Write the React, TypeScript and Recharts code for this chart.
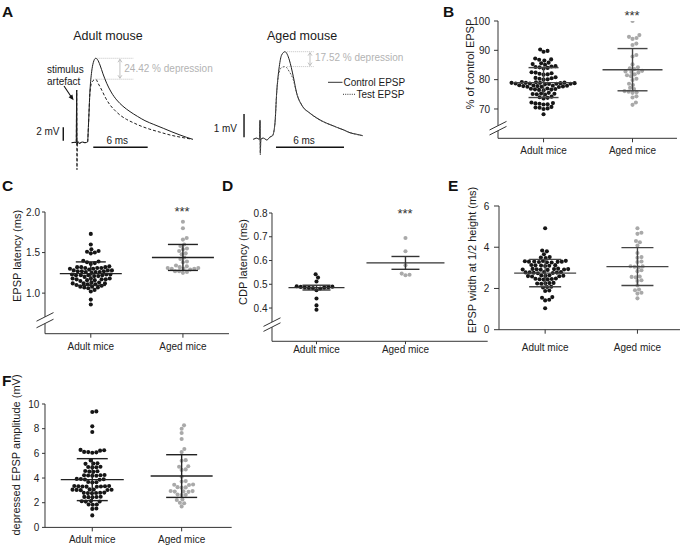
import React from 'react';
import { ScatterChart, Scatter, XAxis, YAxis, ErrorBar, ReferenceLine, LineChart, Line } from 'recharts';

const FONT = '"Liberation Sans", Arial, Helvetica, sans-serif';
const groups = ['Adult mice', 'Aged mice'];

// ---------- Panel A traces (time ms, voltage mV) ----------
const adultControl = [
  { t: -0.55, v: 0 }, { t: -0.2, v: 0.05 }, { t: -0.05, v: 0 }, { t: 0, v: 7.8 }, { t: 0.04, v: -0.3 },
  { t: 0.12, v: 0.2 }, { t: 0.3, v: -0.1 }, { t: 0.6, v: 0.1 }, { t: 0.9, v: 0 }, { t: 1.2, v: 0.1 },
  { t: 1.3, v: 2.6 }, { t: 1.47, v: 7.8 }, { t: 1.65, v: 10.5 }, { t: 1.83, v: 11.85 }, { t: 2.09, v: 12.5 },
  { t: 2.3, v: 12.3 }, { t: 2.57, v: 11.5 }, { t: 2.9, v: 10.2 }, { t: 3.31, v: 8.8 }, { t: 3.8, v: 7.5 },
  { t: 4.41, v: 6.33 }, { t: 5.1, v: 5.4 }, { t: 5.88, v: 4.6 }, { t: 6.7, v: 3.9 }, { t: 7.53, v: 3.26 },
  { t: 8.5, v: 2.7 }, { t: 9.55, v: 2.13 }, { t: 10.5, v: 1.6 }, { t: 11.39, v: 1.14 }, { t: 12.1, v: 0.8 },
  { t: 12.79, v: 0.5 },
];
const adultTest = [
  { t: -0.55, v: 0 }, { t: -0.2, v: 0.05 }, { t: -0.05, v: 0 }, { t: 0, v: 7.8 }, { t: 0.03, v: -4.0 },
  { t: 0.08, v: 0 }, { t: 0.3, v: -0.1 }, { t: 0.6, v: 0.1 }, { t: 0.9, v: 0 }, { t: 1.2, v: 0.1 },
  { t: 1.3, v: 2.6 }, { t: 1.47, v: 7.5 }, { t: 1.69, v: 9.0 }, { t: 2.09, v: 9.4 }, { t: 2.4, v: 8.7 },
  { t: 2.76, v: 7.8 }, { t: 3.2, v: 6.6 }, { t: 3.67, v: 5.6 }, { t: 4.2, v: 4.8 }, { t: 4.77, v: 4.1 },
  { t: 5.5, v: 3.45 }, { t: 6.24, v: 2.96 }, { t: 7.1, v: 2.45 }, { t: 8.08, v: 1.99 }, { t: 9.2, v: 1.55 },
  { t: 10.29, v: 1.14 }, { t: 11.5, v: 0.8 }, { t: 12.79, v: 0.5 },
];
const agedControl = [
  { t: -0.59, v: 0 }, { t: -0.3, v: 0.05 }, { t: -0.05, v: 0 }, { t: 0, v: 0.8 }, { t: 0.03, v: -0.6 },
  { t: 0.07, v: 0 }, { t: 0.3, v: 0.05 }, { t: 0.6, v: -0.03 }, { t: 0.88, v: 0.1 }, { t: 1.1, v: 0.15 },
  { t: 1.32, v: 0.69 }, { t: 1.47, v: 1.99 }, { t: 1.7, v: 3.12 }, { t: 1.91, v: 3.62 }, { t: 2.21, v: 3.76 },
  { t: 2.4, v: 3.65 }, { t: 2.59, v: 3.4 }, { t: 2.94, v: 2.69 }, { t: 3.24, v: 1.97 }, { t: 3.68, v: 1.47 },
  { t: 4.41, v: 1.12 }, { t: 5.0, v: 0.92 }, { t: 5.59, v: 0.755 }, { t: 6.2, v: 0.63 }, { t: 6.77, v: 0.515 },
  { t: 7.4, v: 0.4 }, { t: 7.94, v: 0.28 }, { t: 8.5, v: 0.22 }, { t: 9.06, v: 0.155 },
];
const agedTest = [
  { t: -0.59, v: 0 }, { t: -0.3, v: 0.05 }, { t: -0.05, v: 0 }, { t: 0, v: 0.83 }, { t: 0.03, v: -0.67 },
  { t: 0.07, v: 0 }, { t: 0.3, v: 0.05 }, { t: 0.6, v: -0.03 }, { t: 0.88, v: 0.1 }, { t: 1.1, v: 0.15 },
  { t: 1.32, v: 0.69 }, { t: 1.47, v: 1.99 }, { t: 1.68, v: 2.85 }, { t: 1.9, v: 3.08 }, { t: 2.21, v: 3.12 },
  { t: 2.59, v: 2.9 }, { t: 2.94, v: 2.55 }, { t: 3.24, v: 1.97 }, { t: 3.68, v: 1.47 }, { t: 4.41, v: 1.12 },
  { t: 5.0, v: 0.9 }, { t: 5.59, v: 0.75 }, { t: 6.2, v: 0.62 }, { t: 6.77, v: 0.52 }, { t: 7.4, v: 0.39 },
  { t: 7.94, v: 0.29 }, { t: 8.5, v: 0.21 }, { t: 9.06, v: 0.16 },
];

// ---------- Panel B: % of control EPSP ----------
const adultB = [
  90.3, 89.8, 89.5, 87.2, 86.8, 86.5, 86.9, 85.8, 85.3, 85.6, 85.1, 84.6, 84.3, 84.0, 84.5, 84.2, 83.8,
  82.4, 82.0, 81.7, 82.2, 81.8, 82.5, 80.6, 80.3, 80.1, 80.5, 80.0, 80.8,
  79.1, 78.9, 78.8, 78.7, 78.6, 78.9, 79.0, 78.5, 78.8, 78.6, 78.7, 79.2, 78.4, 78.9,
  77.9, 77.8, 77.6, 78.0, 77.7, 77.5, 78.1, 77.9, 77.6, 77.8, 76.8, 76.6, 76.9, 76.5, 76.7, 76.4, 77.0,
  75.3, 75.1, 75.5, 75.0, 75.2, 74.9, 74.0, 73.8, 73.6, 74.2, 72.0, 71.8, 71.5, 71.9, 72.2, 71.6,
  70.5, 70.2, 70.7, 70.0, 70.4, 68.2,
];
const agedB = [
  100, 95.2, 94.6, 94.2, 93.9, 92.3, 91.8, 88.4, 87.9, 85.2, 84.2, 83.9, 83.6, 83.0, 82.8, 82.6, 82.4,
  81.8, 81.5, 81.2, 80.3, 79.9, 78.6, 78.2, 77.2, 76.8, 76.1, 75.9, 75.7, 75.5, 74.3, 73.9, 72.2, 71.4,
];
const meanB = [79.0, 83.4];
const sdB = [5.1, 7.2];

// ---------- Panel C: EPSP latency (ms) ----------
const adultC = [
  1.73, 1.6, 1.54, 1.52, 1.5, 1.49, 1.51, 1.4, 1.38, 1.39, 1.37, 1.36,
  1.32, 1.31, 1.3, 1.32, 1.31, 1.33, 1.3, 1.31, 1.29, 1.32,
  1.28, 1.27, 1.26, 1.27, 1.28, 1.26, 1.27, 1.25, 1.28, 1.26,
  1.23, 1.22, 1.21, 1.22, 1.23, 1.21, 1.22, 1.2, 1.23, 1.22,
  1.18, 1.17, 1.16, 1.17, 1.18, 1.16, 1.17, 1.15, 1.18,
  1.13, 1.12, 1.11, 1.12, 1.13, 1.1, 1.11, 1.12,
  1.08, 1.07, 1.09, 1.08, 1.06, 1.07, 1.04, 1.02, 0.92, 0.86,
];
const agedC = [
  1.88, 1.8, 1.68, 1.66, 1.6, 1.58, 1.55, 1.54, 1.52, 1.49, 1.48, 1.44, 1.42, 1.39, 1.38,
  1.34, 1.33, 1.32, 1.31, 1.3, 1.3, 1.29, 1.31, 1.3, 1.27, 1.26, 1.25, 1.27,
];
const meanC = [1.24, 1.44];
const sdC = [0.145, 0.16];

// ---------- Panel D: CDP latency (ms) ----------
const adultD = [0.542, 0.528, 0.512, 0.492, 0.488, 0.486, 0.49, 0.484, 0.482, 0.487, 0.489, 0.485, 0.475, 0.44, 0.411, 0.393];
const agedD = [0.695, 0.639, 0.58, 0.545, 0.54, 0.538];
const meanD = [0.486, 0.59];
const semD = [0.01, 0.027];

// ---------- Panel E: EPSP width at 1/2 height (ms) ----------
const adultE = [
  4.92, 3.84, 3.8, 3.66, 3.52, 3.5, 3.48,
  3.32, 3.3, 3.28, 3.31, 3.29, 3.33, 3.27, 3.3, 3.34, 3.26,
  3.12, 3.1, 3.13, 3.09, 3.11, 3.14,
  2.94, 2.92, 2.95, 2.91, 2.93, 2.96, 2.9, 2.94, 2.92,
  2.78, 2.76, 2.79, 2.75, 2.77, 2.8, 2.74, 2.78,
  2.62, 2.6, 2.63, 2.59, 2.61, 2.64, 2.58,
  2.46, 2.44, 2.47, 2.43, 2.45, 2.48,
  2.26, 2.24, 2.27, 2.23, 2.25, 2.07, 2.05, 2.08, 1.9, 1.88, 1.58, 1.55, 1.45, 1.42, 1.04,
];
const agedE = [
  4.92, 4.7, 4.65, 4.3, 4.24, 4.08, 3.72, 3.52, 3.49, 3.31, 3.28, 3.08, 3.05, 3.03, 3.07,
  2.88, 2.84, 2.58, 2.56, 2.54, 2.4, 2.36, 2.15, 1.95, 1.91, 1.79, 1.75, 1.52,
];
const meanE = [2.745, 3.06];
const sdE = [0.665, 0.92];

// ---------- Panel F: depressed EPSP amplitude (mV) ----------
const adultF = [
  9.4, 9.35, 8.19, 7.73,
  6.28, 6.22, 6.25, 6.1, 6.05, 6.08, 6.12,
  5.43, 5.18, 5.15, 5.2, 4.9, 4.88, 4.92, 4.86,
  4.55, 4.52, 4.57, 4.5, 4.22, 4.2, 4.24, 4.18, 4.23, 4.19,
  3.92, 3.88, 3.9, 3.93, 3.86, 3.66, 3.64, 3.68,
  3.34, 3.31, 3.33, 3.3, 3.35, 3.29, 3.32, 3.36,
  3.06, 3.04, 3.07, 3.03, 3.08, 3.02, 3.05,
  2.8, 2.78, 2.81, 2.77, 2.82, 2.79, 2.47, 2.45, 2.48, 2.44, 2.46,
  2.12, 2.1, 2.13, 2.09, 1.85, 1.83, 1.86, 1.53, 1.5, 0.97,
];
const agedF = [
  8.27, 8.0, 7.65, 7.16, 6.35, 6.1, 5.45, 5.4, 4.96, 4.92, 4.7, 4.66, 4.1, 3.75, 3.71,
  3.48, 3.45, 3.44, 3.26, 3.22, 3.24, 2.94, 2.92, 2.9, 2.95, 2.88, 2.66, 2.64, 2.62,
  2.26, 2.22, 2.0, 1.96, 1.7,
];
const meanF = [3.87, 4.16];
const sdF = [1.7, 1.73];

const ADULT_COLOR = '#161616';
const AGED_COLOR = '#a9a9a9';

function beeswarm(values: number[], pxPerX: number, pxPerY: number, d: number): number[] {
  const order = values.map((_, i) => i).sort((a, b) => values[a] - values[b]);
  const placed: { x: number; y: number }[] = [];
  const out = new Array(values.length).fill(0);
  for (const i of order) {
    const y = values[i] * pxPerY;
    const near = placed.filter((p) => Math.abs(p.y - y) < d);
    const cands = [0];
    for (const p of near) {
      const dx = Math.sqrt(Math.max(0, d * d - (p.y - y) * (p.y - y)));
      cands.push(p.x + dx, p.x - dx);
    }
    cands.sort((a, b) => Math.abs(a) - Math.abs(b));
    let chosen = 0;
    for (const c of cands) {
      if (near.every((p) => (p.x - c) * (p.x - c) + (p.y - y) * (p.y - y) >= d * d - 1e-6)) {
        chosen = c;
        break;
      }
    }
    placed.push({ x: chosen, y });
    out[i] = chosen / pxPerX;
  }
  return out;
}

interface PanelProps {
  axisX: number; xEnd: number; yTop: number; yBottom: number;
  xDomain: [number, number]; yDomain: [number, number]; yTicks: number[]; decimals: number;
  series: number[][]; means: number[]; errs: number[];
  meanHalf: number[]; errHalf: number; meanColor: string;
  brk?: { upper: number; lower: number };
  xTickSize: number; xTickMargin: number; yTickSize: number; yTickMargin: number;
}

const AXIS_COLOR = '#333';

function SwarmPanel(p: PanelProps) {
  const ML = 50, MT = 8, MR = 8, XH = 30;
  const plotW = p.xEnd - p.axisX;
  const plotH = p.yBottom - p.yTop;
  const W = ML + plotW + MR;
  const H = MT + plotH + XH;
  const pxPerX = plotW / (p.xDomain[1] - p.xDomain[0]);
  const pxPerY = plotH / (p.yDomain[1] - p.yDomain[0]);
  const uy = (px: number) => p.yDomain[0] + px / pxPerY;
  const ux = (px: number) => px / pxPerX;
  const x0 = p.xDomain[0];
  const colors = [ADULT_COLOR, AGED_COLOR];
  const dots = p.series.map((vals, g) => {
    const off = beeswarm(vals, pxPerX, pxPerY, 4.1);
    return vals.map((v, i) => ({ x: g + 1 + off[i], y: v }));
  });
  const meanData = p.means.map((m, g) => ({ x: g + 1, y: m, err: p.errs[g] }));
  const brkLines: { x: number; y: number }[][] = [];
  if (p.brk) {
    for (const c of [p.brk.upper, p.brk.lower]) {
      brkLines.push([
        { x: x0 - ux(8.5), y: uy(c - 4.3) },
        { x: x0 + ux(8.5), y: uy(c + 4.3) },
      ]);
    }
  }
  return (
    <div style={{ position: 'absolute', left: p.axisX - ML, top: p.yTop - MT }}>
      <ScatterChart width={W} height={H} margin={{ top: MT, right: MR, bottom: 0, left: 0 }}>
        <XAxis
          type="number" dataKey="x" domain={p.xDomain} allowDataOverflow ticks={[1, 2]} interval={0}
          tickFormatter={(v: number) => groups[Math.round(v) - 1]} height={XH}
          stroke={AXIS_COLOR} tickSize={p.xTickSize} tickMargin={p.xTickMargin}
          tick={{ fontSize: 10, fill: '#222', fontFamily: FONT }}
        />
        <YAxis
          type="number" dataKey="y" domain={p.yDomain} allowDataOverflow ticks={p.yTicks} interval={0}
          width={ML} axisLine={!p.brk} stroke={AXIS_COLOR} tickSize={p.yTickSize} tickMargin={p.yTickMargin}
          tickFormatter={(v: number) => v.toFixed(p.decimals)}
          tick={{ fontSize: 10, fill: '#222', fontFamily: FONT }}
        />
        {p.brk && (
          <ReferenceLine segment={[{ x: x0, y: uy(p.brk.upper) }, { x: x0, y: p.yDomain[1] }]} stroke={AXIS_COLOR} ifOverflow="visible" />
        )}
        {p.brk && (
          <ReferenceLine segment={[{ x: x0, y: p.yDomain[0] }, { x: x0, y: uy(p.brk.lower) }]} stroke={AXIS_COLOR} ifOverflow="visible" />
        )}
        {brkLines.map((s, i) => (
          <ReferenceLine key={'b' + i} segment={s} stroke={AXIS_COLOR} ifOverflow="visible" />
        ))}
        {dots.map((d, g) => (
          <Scatter
            key={g} data={d} isAnimationActive={false}
            shape={(sp: any) => <circle cx={sp.cx} cy={sp.cy} r={2.05} fill={colors[g]} />}
          />
        ))}
        <Scatter
          data={meanData} isAnimationActive={false}
          shape={(sp: any) => {
            const half = sp.payload && sp.payload.x === 1 ? p.meanHalf[0] : p.meanHalf[1];
            return <line x1={sp.cx - half} x2={sp.cx + half} y1={sp.cy} y2={sp.cy} stroke={p.meanColor} strokeWidth={1.4} />;
          }}
        >
          <ErrorBar dataKey="err" direction="y" width={p.errHalf} stroke={p.meanColor} strokeWidth={1.4} zIndex={700} />
        </Scatter>
      </ScatterChart>
    </div>
  );
}

const arrowShape = (color: string) => (sp: any) => {
  const x = sp.x1;
  const top = Math.min(sp.y1, sp.y2);
  const bot = Math.max(sp.y1, sp.y2);
  return (
    <g>
      <line x1={x} x2={x} y1={top + 1} y2={bot - 1} stroke={color} strokeWidth={0.8} />
      <path d={`M${x - 2},${top + 4} L${x},${top + 1} L${x + 2},${top + 4}`} fill="none" stroke={color} strokeWidth={0.8} />
      <path d={`M${x - 2},${bot - 4} L${x},${bot - 1} L${x + 2},${bot - 4}`} fill="none" stroke={color} strokeWidth={0.8} />
    </g>
  );
};

const GRAY = '#b3b3b3';
const peak = (arr: { t: number; v: number }[]) => Math.max(...arr.map((d) => d.v));

function Traces() {
  const aCp = peak(adultControl), aTp = peak(adultTest);
  const gCp = peak(agedControl), gTp = peak(agedTest);
  return (
    <>
      <div style={{ position: 'absolute', left: 40, top: 40 }}>
        <LineChart width={160} height={140} margin={{ top: 0, right: 0, bottom: 0, left: 0 }}>
          <XAxis type="number" dataKey="t" domain={[-4.046, 13.6]} hide allowDataOverflow />
          <YAxis type="number" domain={[-5.53, 15.21]} hide allowDataOverflow />
          <ReferenceLine segment={[{ x: 2.2, y: aCp }, { x: 6.24, y: aCp }]} stroke={GRAY} strokeDasharray="1 1" strokeWidth={0.8} ifOverflow="visible" />
          <ReferenceLine segment={[{ x: 2.2, y: aTp }, { x: 6.24, y: aTp }]} stroke={GRAY} strokeDasharray="1 1" strokeWidth={0.8} ifOverflow="visible" />
          <ReferenceLine segment={[{ x: 4.77, y: aCp }, { x: 4.77, y: aTp }]} shape={arrowShape(GRAY)} ifOverflow="visible" />
          <ReferenceLine segment={[{ x: -1.48, y: 0.3 }, { x: -1.48, y: 2.3 }]} stroke="#111" strokeWidth={1.4} ifOverflow="visible" />
          <ReferenceLine segment={[{ x: 1.83, y: -0.68 }, { x: 7.83, y: -0.68 }]} stroke="#111" strokeWidth={1.4} ifOverflow="visible" />
          <Line data={adultControl} dataKey="v" type="monotone" dot={false} stroke="#1e1e1e" strokeWidth={1} isAnimationActive={false} />
          <Line data={adultTest} dataKey="v" type="monotone" dot={false} stroke="#1e1e1e" strokeWidth={1} strokeDasharray="3 2" isAnimationActive={false} />
        </LineChart>
      </div>
      <div style={{ position: 'absolute', left: 230, top: 40 }}>
        <LineChart width={200} height={125} margin={{ top: 0, right: 0, bottom: 0, left: 0 }}>
          <XAxis type="number" dataKey="t" domain={[-2.648, 15.0]} hide allowDataOverflow />
          <YAxis type="number" domain={[-1.103, 4.262]} hide allowDataOverflow />
          <ReferenceLine segment={[{ x: 2.4, y: gCp }, { x: 4.75, y: gCp }]} stroke={GRAY} strokeDasharray="1 1" strokeWidth={0.8} ifOverflow="visible" />
          <ReferenceLine segment={[{ x: 2.4, y: gTp }, { x: 4.75, y: gTp }]} stroke={GRAY} strokeDasharray="1 1" strokeWidth={0.8} ifOverflow="visible" />
          <ReferenceLine segment={[{ x: 4.41, y: gCp }, { x: 4.41, y: gTp }]} shape={arrowShape(GRAY)} ifOverflow="visible" />
          <ReferenceLine segment={[{ x: -1.41, y: 0.09 }, { x: -1.41, y: 1.09 }]} stroke="#111" strokeWidth={1.4} ifOverflow="visible" />
          <ReferenceLine segment={[{ x: 1.41, y: -0.34 }, { x: 7.41, y: -0.34 }]} stroke="#111" strokeWidth={1.4} ifOverflow="visible" />
          <Line data={agedControl} dataKey="v" type="monotone" dot={false} stroke="#1e1e1e" strokeWidth={1} isAnimationActive={false} />
          <Line data={agedTest} dataKey="v" type="monotone" dot={false} stroke="#555" strokeWidth={1} strokeDasharray="2 1.5" isAnimationActive={false} />
        </LineChart>
      </div>
    </>
  );
}

function Overlay() {
  const letter = { fontFamily: FONT, fontSize: 15.5, fontWeight: 700, fill: '#111' } as const;
  const small = { fontFamily: FONT, fontSize: 10, fill: '#1a1a1a' } as const;
  const ylab = { fontFamily: FONT, fontSize: 11, fill: '#1a1a1a' } as const;
  const stars = { fontFamily: FONT, fontSize: 13, fill: '#333' } as const;
  const yl = (x: number, y: number, s: string) => (
    <text transform={`translate(${x},${y}) rotate(-90)`} textAnchor="middle" dominantBaseline="central" style={ylab}>{s}</text>
  );
  return (
    <svg width={685} height={546} style={{ position: 'absolute', left: 0, top: 0, pointerEvents: 'none' }}>
      <text x={2} y={17} style={letter}>A</text>
      <text x={443} y={17} style={letter}>B</text>
      <text x={2} y={191} style={letter}>C</text>
      <text x={222} y={191} style={letter}>D</text>
      <text x={448} y={191} style={letter}>E</text>
      <text x={2} y={386} style={letter}>F</text>

      <text x={108} y={40} textAnchor="middle" style={{ fontFamily: FONT, fontSize: 12.5, fill: '#1a1a1a' }}>Adult mouse</text>
      <text x={302} y={40} textAnchor="middle" style={{ fontFamily: FONT, fontSize: 12.5, fill: '#1a1a1a' }}>Aged mouse</text>

      <text x={47} y={73} style={small}>stimulus</text>
      <text x={47} y={85} style={small}>artefact</text>
      <line x1={64} y1={86} x2={71} y2={96.5} stroke="#111" strokeWidth={1.1} />
      <polygon points="73.6,100.3 68.6,97.2 72.4,94.6" fill="#111" />

      <text x={59.5} y={135} textAnchor="end" style={small}>2 mV</text>
      <text x={117.3} y={143.5} textAnchor="middle" style={small}>6 ms</text>
      <text x={237} y={132} textAnchor="end" style={small}>1 mV</text>
      <text x={304} y={143.5} textAnchor="middle" style={small}>6 ms</text>

      <text x={124.3} y={71.8} style={{ ...small, fill: GRAY }}>24.42 % depression</text>
      <text x={315} y={61} style={{ ...small, fill: GRAY }}>17.52 % depression</text>

      <line x1={328} x2={342.5} y1={82.3} y2={82.3} stroke="#333" strokeWidth={1} />
      <text x={343.5} y={86} style={small}>Control EPSP</text>
      <line x1={343} x2={356} y1={94.3} y2={94.3} stroke="#333" strokeWidth={1} strokeDasharray="1 1.2" />
      <text x={356.5} y={98} style={small}>Test EPSP</text>

      <text x={632} y={19.5} textAnchor="middle" style={stars}>***</text>
      <text x={182} y={216} textAnchor="middle" style={stars}>***</text>
      <text x={405} y={218} textAnchor="middle" style={stars}>***</text>

      {yl(470, 64, '% of control EPSP')}
      {yl(17, 256, 'EPSP latency (ms)')}
      {yl(243, 262, 'CDP latency (ms)')}
      {yl(472, 260, 'EPSP width at 1/2 height (ms)')}
      {yl(16, 455, 'depressed EPSP amplitude (mV)')}
    </svg>
  );
}

export default function App() {
  return (
    <div style={{ position: 'absolute', left: 0, top: 0, width: 685, height: 546, background: '#fff', overflow: 'hidden' }}>
      <Traces />
      <SwarmPanel
        axisX={498} xEnd={677} yTop={20.7} yBottom={138} xDomain={[0.488, 2.5]} yDomain={[60, 100]}
        yTicks={[70, 80, 90, 100]} decimals={0} series={[adultB, agedB]} means={meanB} errs={sdB}
        meanHalf={[30, 30]} errHalf={15} meanColor="#444" brk={{ upper: 12.6, lower: 7.6 }}
        xTickSize={4} xTickMargin={4.7} yTickSize={4} yTickMargin={4}
      />
      <SwarmPanel
        axisX={45} xEnd={229} yTop={212.3} yBottom={334} xDomain={[0.503, 2.5]} yDomain={[0.5, 2.0]}
        yTicks={[1.0, 1.5, 2.0]} decimals={1} series={[adultC, agedC]} means={meanC} errs={sdC}
        meanHalf={[31, 31]} errHalf={15} meanColor="#222" brk={{ upper: 16.8, lower: 10.2 }}
        xTickSize={4} xTickMargin={5.3} yTickSize={3} yTickMargin={2}
      />
      <SwarmPanel
        axisX={272.3} xEnd={488} yTop={212.7} yBottom={341} xDomain={[0.5, 2.924]} yDomain={[0.26, 0.8]}
        yTicks={[0.4, 0.5, 0.6, 0.7, 0.8]} decimals={1} series={[adultD, agedD]} means={meanD} errs={semD}
        meanHalf={[28, 39]} errHalf={14} meanColor="#333" brk={{ upper: 19.2, lower: 14.2 }}
        xTickSize={3} xTickMargin={1.5} yTickSize={3} yTickMargin={1.5}
      />
      <SwarmPanel
        axisX={499} xEnd={680} yTop={206} yBottom={329.7} xDomain={[0.5, 2.461]} yDomain={[0, 6]}
        yTicks={[0, 2, 4, 6]} decimals={0} series={[adultE, agedE]} means={meanE} errs={sdE}
        meanHalf={[31, 31]} errHalf={16} meanColor="#444"
        xTickSize={4} xTickMargin={10} yTickSize={5} yTickMargin={4.7}
      />
      <SwarmPanel
        axisX={45} xEnd={231.7} yTop={404.3} yBottom={527.7} xDomain={[0.471, 2.56]} yDomain={[0, 10]}
        yTicks={[0, 2, 4, 6, 8, 10]} decimals={0} series={[adultF, agedF]} means={meanF} errs={sdF}
        meanHalf={[31.5, 31]} errHalf={15.5} meanColor="#222"
        xTickSize={4} xTickMargin={4.3} yTickSize={3} yTickMargin={2.7}
      />
      <Overlay />
    </div>
  );
}
